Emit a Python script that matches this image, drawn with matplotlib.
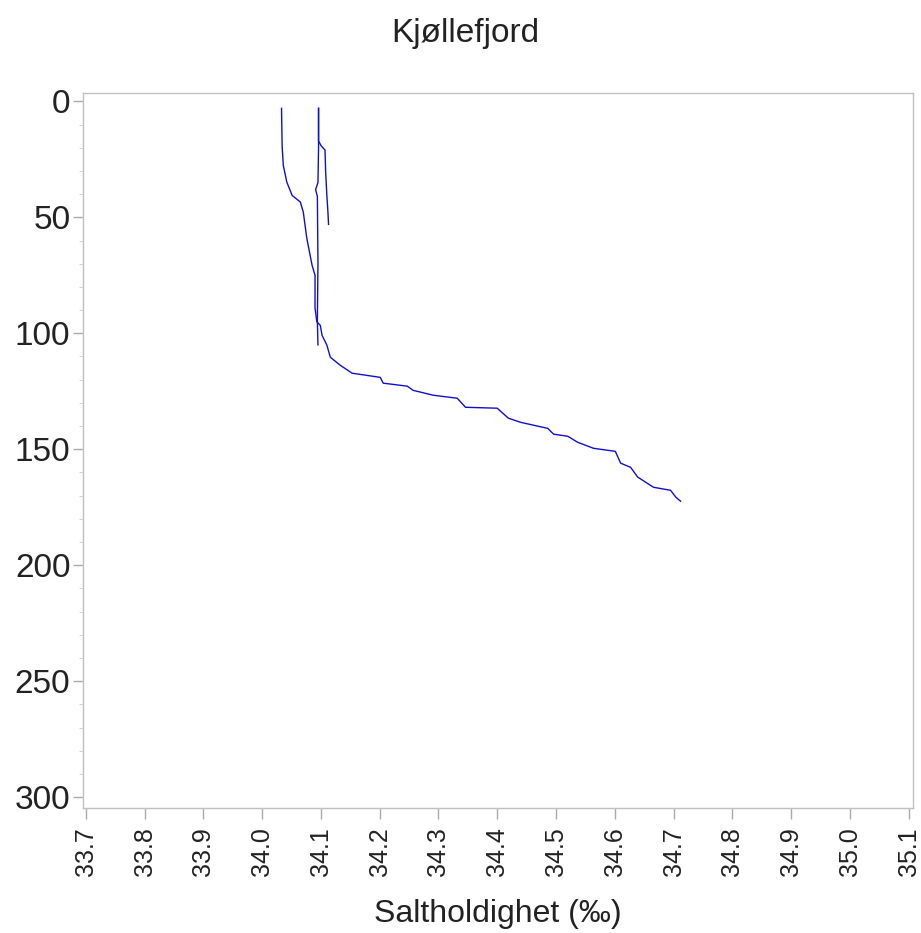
import matplotlib
matplotlib.use("Agg")
import matplotlib.pyplot as plt
from matplotlib.ticker import MultipleLocator

plt.rcParams['font.family'] = ['Liberation Sans', 'DejaVu Sans']
plt.rcParams['text.color'] = '#222222'
plt.rcParams['xtick.labelcolor'] = '#222222'
plt.rcParams['ytick.labelcolor'] = '#222222'
plt.rcParams['axes.labelcolor'] = '#222222'

# profil 1 (kort, til ca. 53 m)
sal1 = [34.096, 34.096, 34.100, 34.107, 34.108, 34.110, 34.112, 34.113]
dyp1 = [3, 17, 19, 21, 30, 40, 48, 53]

# profil 2 (nesten loddrett, til ca. 105 m)
sal2 = [34.096, 34.096, 34.095, 34.091, 34.094, 34.095, 34.094, 34.095]
dyp2 = [3, 20, 35, 38, 41, 70, 95, 105]

# profil 3 (dypeste)
sal3 = [34.033, 34.034, 34.036, 34.042, 34.051, 34.065, 34.070, 34.076,
        34.085, 34.090, 34.090, 34.093, 34.099, 34.102, 34.110, 34.116,
        34.133, 34.153, 34.201, 34.206, 34.247, 34.257, 34.291, 34.332,
        34.346, 34.400, 34.419, 34.440, 34.486, 34.496, 34.520, 34.537,
        34.564, 34.601, 34.610, 34.627, 34.639, 34.666, 34.695, 34.704,
        34.712]
dyp3 = [3, 19, 27.6, 34.8, 40.5, 43.4, 47.7, 59,
        70.7, 75, 89, 95, 96.6, 100.9, 105, 110.3,
        113.8, 117.2, 119, 121.5, 122.8, 124.6, 126.7, 128,
        131.9, 132.3, 136.6, 138.4, 141, 143.5, 144.4, 147,
        149.6, 150.9, 156, 157.8, 162, 166.4, 167.7, 170.7,
        172.4]

fig = plt.figure(figsize=(9.21, 9.33), dpi=100)
ax = fig.add_axes([0.090, 0.134, 0.901, 0.766])

for s, d in [(sal1, dyp1), (sal2, dyp2), (sal3, dyp3)]:
    ax.plot(s, d, color='#1010cc', lw=1.0)

ax.set_xlim(33.695, 35.107)
ax.set_ylim(304.7, -3.5)
ax.yaxis.set_major_locator(MultipleLocator(50))
ax.yaxis.set_minor_locator(MultipleLocator(10))
ax.set_xticks([33.7 + 0.1 * i for i in range(15)])
ax.set_xticklabels(['%.1f' % (33.7 + 0.1 * i) for i in range(15)],
                   rotation=90, fontsize=18)
ax.tick_params(axis='y', which='major', labelsize=24, length=7,
               color='#aaaaaa', width=1, pad=2)
ax.tick_params(axis='y', which='minor', length=3, color='#cccccc')
ax.tick_params(axis='x', length=8, color='#aaaaaa', width=1, pad=6)
for sp in ax.spines.values():
    sp.set_color('#c0c0c0')
    sp.set_linewidth(1)

ax.set_xlabel('Saltholdighet (‰)', fontsize=23, labelpad=16)
fig.text(0.505, 1 - 42 / 933, 'Kjøllefjord', fontsize=24, ha='center',
         va='baseline')

fig.savefig('out.png', dpi=100)
